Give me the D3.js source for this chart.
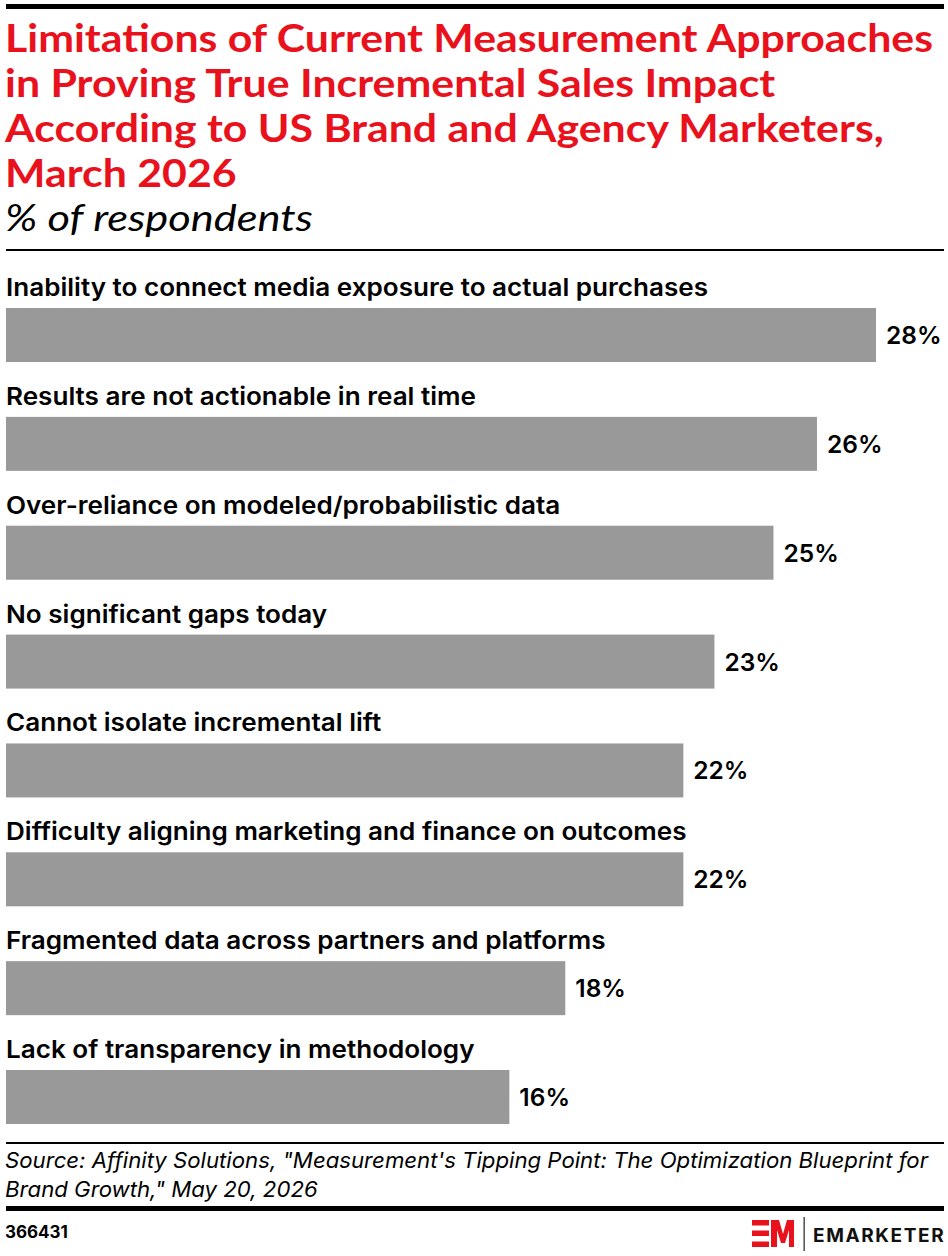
<!DOCTYPE html>
<html>
<head>
<meta charset="utf-8">
<script src="https://cdn.jsdelivr.net/npm/d3@7"></script>
<style>
  html, body { margin: 0; padding: 0; background: #fff; }
  svg { display: block; }
</style>
</head>
<body>
<script>
const titleLines = [
  "Limitations of Current Measurement Approaches",
  "in Proving True Incremental Sales Impact",
  "According to US Brand and Agency Marketers,",
  "March 2026"
];
const subtitle = "% of respondents";
const categories = [
  "Inability to connect media exposure to actual purchases",
  "Results are not actionable in real time",
  "Over-reliance on modeled/probabilistic data",
  "No significant gaps today",
  "Cannot isolate incremental lift",
  "Difficulty aligning marketing and finance on outcomes",
  "Fragmented data across partners and platforms",
  "Lack of transparency in methodology"
];
const values = [28.0, 26.1, 24.7, 22.8, 21.8, 21.8, 18.0, 16.2];
const sourceLines = [
  "Source: Affinity Solutions, \"Measurement's Tipping Point: The Optimization Blueprint for",
  "Brand Growth,\" May 20, 2026"
];
const chartId = "366431";

const W = 948, H = 1256;
const RED = "#e8111c";
const svg = d3.select("body").append("svg").attr("width", W).attr("height", H);

// stretch a group of texts horizontally by the factor that makes the first one reach targetWidth
function fitGroup(sel, targetWidth) {
  const nodes = sel.nodes();
  const k = targetWidth / nodes[0].getComputedTextLength();
  nodes.forEach(n => {
    const w = n.getComputedTextLength();
    d3.select(n).attr("textLength", w * k).attr("lengthAdjust", "spacingAndGlyphs");
  });
}

// top rule
svg.append("rect").attr("x", 6).attr("y", 4).attr("width", 938).attr("height", 5).attr("fill", "#000");

// title
const title = svg.append("g").selectAll("text").data(titleLines).join("text")
  .attr("x", 5).attr("y", (d, i) => 52 + i * 45)
  .attr("font-family", "Lato, sans-serif").attr("font-weight", 700)
  .attr("font-size", 37.5).attr("fill", RED)
  .text(d => d);
fitGroup(title, 928);

const sub = svg.append("text").attr("x", 5).attr("y", 231)
  .attr("font-family", "Lato, sans-serif").attr("font-style", "italic").attr("font-weight", 400)
  .attr("font-size", 36).attr("fill", "#000").text(subtitle);
fitGroup(sub, 308);

svg.append("rect").attr("x", 6).attr("y", 249).attr("width", 938).attr("height", 2).attr("fill", "#000");

// scales
const y = d3.scaleBand().domain(categories).range([268, 268 + 8 * 108.86]).paddingInner(0);
const x = d3.scaleLinear().domain([0, 28]).range([6, 876]);
const fmt = v => d3.format(".0f")(v) + "%";

const rows = svg.append("g").selectAll("g").data(categories).join("g")
  .attr("transform", d => `translate(0,${y(d)})`);

const catLabels = rows.append("text").attr("x", 6).attr("y", 28)
  .attr("font-family", "Inter, sans-serif").attr("font-weight", 600)
  .attr("font-size", 24.5).attr("fill", "#000")
  .text(d => d);
fitGroup(catLabels, 702);

rows.append("rect").attr("x", x(0)).attr("y", 40)
  .attr("width", (d, i) => x(values[i]) - x(0)).attr("height", 54)
  .attr("fill", "#999999");

rows.append("text").attr("x", (d, i) => x(values[i]) + 10).attr("y", 76)
  .attr("font-family", "Inter, sans-serif").attr("font-weight", 600)
  .attr("font-size", 24.5).attr("fill", "#000")
  .text((d, i) => fmt(values[i]));

// footer
svg.append("rect").attr("x", 6).attr("y", 1142).attr("width", 938).attr("height", 2).attr("fill", "#000");
const src = svg.append("g").selectAll("text").data(sourceLines).join("text")
  .attr("x", 5).attr("y", (d, i) => 1168 + i * 29)
  .attr("font-family", "Inter, sans-serif").attr("font-style", "italic").attr("font-weight", 400)
  .attr("font-size", 21.5).attr("fill", "#000").text(d => d);
fitGroup(src, 923);

svg.append("rect").attr("x", 6).attr("y", 1206).attr("width", 938).attr("height", 5).attr("fill", "#000");
svg.append("text").attr("x", 5).attr("y", 1238)
  .attr("font-family", "Inter, sans-serif").attr("font-weight", 700)
  .attr("font-size", 17).attr("fill", "#000").text(chartId);

// logo
const logo = svg.append("g").attr("transform", "translate(752,1220)");
logo.append("rect").attr("x", 0).attr("y", 0).attr("width", 17).attr("height", 5.5).attr("fill", RED);
logo.append("rect").attr("x", 0).attr("y", 10.5).attr("width", 17).attr("height", 5.5).attr("fill", RED);
logo.append("rect").attr("x", 0).attr("y", 21.5).attr("width", 17).attr("height", 5.5).attr("fill", RED);
logo.append("path").attr("d", "M19,0 L27,0 L31,14 L35,0 L42,0 L42,27 L37,27 L37,10 L33,23 L29,23 L25,10 L25,27 L19,27 Z")
  .attr("fill", RED);
svg.append("rect").attr("x", 803.5).attr("y", 1217).attr("width", 1.3).attr("height", 34).attr("fill", "#333");
svg.append("text").attr("x", 813).attr("y", 1242)
  .attr("font-family", "Inter, sans-serif").attr("font-weight", 700)
  .attr("font-size", 19).attr("letter-spacing", 1.6).attr("fill", "#111").text("EMARKETER");
</script>
</body>
</html>
